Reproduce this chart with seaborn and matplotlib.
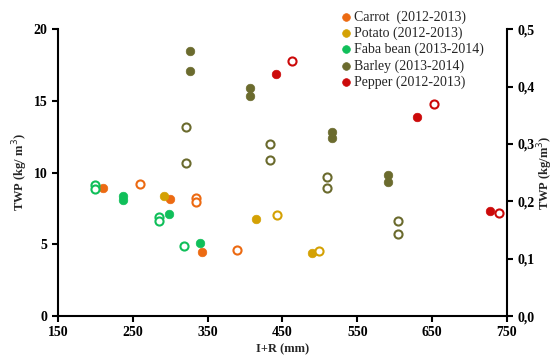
import numpy as np
import matplotlib.pyplot as plt
import seaborn as sns
from matplotlib.ticker import FuncFormatter

sns.set_style('ticks')
plt.rcParams['font.family'] = ['Liberation Serif', 'DejaVu Serif']

# filled points -> left axis (kg/m3), open points -> right axis
crops = ['Carrot  (2012-2013)', 'Potato (2012-2013)', 'Faba bean (2013-2014)',
         'Barley (2013-2014)', 'Pepper (2012-2013)']
colors = ['#EC6A12', '#D4A104', '#10BF5A', '#6B6B2E', '#CC0A0A']

carrot_x = [210, 300, 342]
carrot_y = [8.9, 8.15, 4.45]
carrot_ox = [259, 334, 334, 389]
carrot_oy = [0.230, 0.206, 0.198, 0.116]

potato_x = [291, 415, 489]
potato_y = [8.4, 6.8, 4.4]
potato_ox = [442, 499]
potato_oy = [0.176, 0.114]

faba_x = [237, 237, 298, 340]
faba_y = [8.4, 8.1, 7.1, 5.1]
faba_ox = [200, 200, 285, 285, 319]
faba_oy = [0.229, 0.221, 0.173, 0.166, 0.122]

barley_x = [327, 327, 406, 406, 516, 516, 591, 591]
barley_y = [18.5, 17.1, 15.9, 15.35, 12.8, 12.4, 9.8, 9.35]
barley_ox = [321, 321, 433, 433, 509, 509, 604, 604]
barley_oy = [0.330, 0.267, 0.300, 0.272, 0.243, 0.223, 0.166, 0.143]

pepper_x = [441, 630, 727]
pepper_y = [16.85, 13.85, 7.3]
pepper_ox = [463, 652, 739]
pepper_oy = [0.444, 0.370, 0.180]

filled = [(carrot_x, carrot_y), (potato_x, potato_y), (faba_x, faba_y),
          (barley_x, barley_y), (pepper_x, pepper_y)]
opened = [(carrot_ox, carrot_oy), (potato_ox, potato_oy), (faba_ox, faba_oy),
          (barley_ox, barley_oy), (pepper_ox, pepper_oy)]

fig = plt.figure(figsize=(5.55, 3.6), dpi=100)
ax = fig.add_axes([0.1045, 0.122, 0.809, 0.797])
ax2 = ax.twinx()

for i in range(5):
    sns.scatterplot(x=filled[i][0], y=filled[i][1], ax=ax, color=colors[i],
                    s=38, edgecolor=colors[i], linewidth=0.5, label=crops[i], zorder=3)
    sns.scatterplot(x=opened[i][0], y=opened[i][1], ax=ax2, facecolor='white',
                    edgecolor=colors[i], s=34, linewidth=1.5, zorder=3)

ax.set_xlim(150, 750)
ax.set_ylim(0, 20)
ax2.set_ylim(0, 0.5)
ax.set_xticks(np.arange(150, 751, 100))
ax.set_yticks(np.arange(0, 21, 5))
ax2.set_yticks(np.arange(0, 0.51, 0.1))
ax2.yaxis.set_major_formatter(FuncFormatter(lambda v, p: f'{v:.1f}'.replace('.', ',')))

for a in (ax, ax2):
    a.spines['top'].set_visible(False)
    for s in a.spines.values():
        s.set_linewidth(1.5)
        s.set_color('black')
    a.tick_params(axis='both', labelsize=10, width=1.5, length=4, colors='black')
    for lab in a.get_xticklabels() + a.get_yticklabels():
        lab.set_fontweight('bold')
ax.spines['right'].set_visible(False)
ax2.spines['left'].set_visible(False)
ax2.spines['bottom'].set_visible(False)

ax.set_xlabel('I+R (mm)', fontsize=9, fontweight='bold', labelpad=3)
ax.set_ylabel('TWP (kg/ m$^3$)', fontsize=9, fontweight='bold', labelpad=3)
ax2.set_ylabel('TWP (kg/m$^3$)', fontsize=9, fontweight='bold', va='center')
ax2.yaxis.set_label_coords(1.085, 0.5)

handles, labels = ax.get_legend_handles_labels()
ax.get_legend().remove()
fig.legend(handles, labels, loc='upper left', bbox_to_anchor=(0.6, 0.987),
           frameon=False, fontsize=10, handlelength=1.0, handletextpad=0.1,
           labelspacing=0.2, markerscale=0.9, borderaxespad=0)

plt.savefig('out.png', dpi=100)
plt.close()
